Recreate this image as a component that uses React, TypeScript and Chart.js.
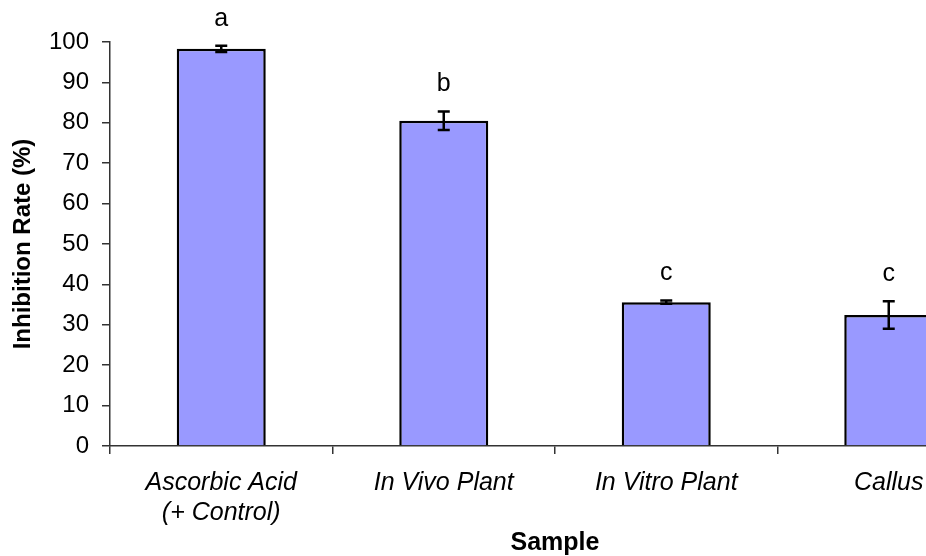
import React, { useEffect, useRef } from "react";
import { Chart, registerables } from "chart.js";

Chart.register(...registerables);

const categories: (string | string[])[] = [
  ["Ascorbic Acid", "(+ Control)"],
  "In Vivo Plant",
  "In Vitro Plant",
  "Callus",
];
const inhibition = [98.3, 80.5, 35.6, 32.4];
const errors = [0.8, 2.3, 0.4, 3.4];
const letters = ["a", "b", "c", "c"];
const yAxisTitle = "Inhibition Rate (%)";
const xAxisTitle = "Sample";

const FONT = '"Liberation Sans", Arial, sans-serif';

const errorBarPlugin = {
  id: "errorBars",
  afterDatasetsDraw(chart: any) {
    const ctx = chart.ctx;
    const meta = chart.getDatasetMeta(0);
    const y = chart.scales.y;
    meta.data.forEach((bar: any, i: number) => {
      const x = bar.x;
      const top = y.getPixelForValue(inhibition[i] + errors[i]);
      const bot = y.getPixelForValue(inhibition[i] - errors[i]);
      ctx.save();
      ctx.strokeStyle = "#000";
      ctx.lineWidth = 2.5;
      ctx.beginPath();
      ctx.moveTo(x, top);
      ctx.lineTo(x, bot);
      ctx.moveTo(x - 6, top);
      ctx.lineTo(x + 6, top);
      ctx.moveTo(x - 6, bot);
      ctx.lineTo(x + 6, bot);
      ctx.stroke();
      ctx.fillStyle = "#000";
      ctx.font = `25px ${FONT}`;
      ctx.textAlign = "center";
      ctx.textBaseline = "middle";
      ctx.fillText(letters[i], x, top - 27);
      ctx.restore();
    });
  },
};

export default function App() {
  const ref = useRef<HTMLCanvasElement>(null);
  useEffect(() => {
    if (!ref.current) return;
    const chart = new Chart(ref.current, {
      type: "bar",
      data: {
        labels: categories,
        datasets: [
          {
            data: inhibition,
            backgroundColor: "#9999FF",
            borderColor: "#000",
            borderWidth: 2.5,
            barPercentage: 0.4,
            categoryPercentage: 1,
          },
        ],
      },
      options: {
        responsive: false,
        animation: false,
        devicePixelRatio: 1,
        layout: { padding: { top: 42, right: 0, bottom: 0, left: 0 } },
        plugins: {
          legend: { display: false },
          tooltip: { enabled: false },
        },
        scales: {
          x: {
            offset: true,
            grid: {
              offset: true,
              drawOnChartArea: false,
              drawTicks: true,
              tickLength: 8,
              color: "#333",
              lineWidth: 1.5,
            },
            border: { display: true, color: "#333", width: 1.5 },
            ticks: {
              color: "#000",
              padding: 14,
              font: { family: FONT, size: 25, style: "italic", lineHeight: 1.2 },
              maxRotation: 0,
              autoSkip: false,
            },
            title: {
              display: true,
              text: xAxisTitle,
              color: "#000",
              font: { family: FONT, size: 25, weight: "bold", lineHeight: 1 },
              padding: { top: 0, bottom: 0 },
            },
            afterFit(scale: any) {
              scale.height = 110;
            },
          },
          y: {
            min: 0,
            max: 100,
            ticks: {
              stepSize: 10,
              color: "#000",
              padding: 13,
              font: { family: FONT, size: 24 },
            },
            grid: {
              drawOnChartArea: false,
              drawTicks: true,
              tickLength: 8,
              color: "#333",
              lineWidth: 1.5,
            },
            border: { display: true, color: "#333", width: 1.5 },
            title: {
              display: true,
              text: yAxisTitle,
              color: "#000",
              font: { family: FONT, size: 24, weight: "bold", lineHeight: 1.2 },
              padding: { top: 9, bottom: 0 },
            },
            afterFit(scale: any) {
              scale.width = 110;
            },
          },
        },
      },
      plugins: [errorBarPlugin],
    });
    return () => chart.destroy();
  }, []);
  return (
    <div
      style={{
        position: "fixed",
        left: 0,
        top: 0,
        width: 926,
        height: 556,
        overflow: "hidden",
        background: "#fff",
      }}
    >
      <canvas ref={ref} width={1000} height={556} style={{ display: "block" }} />
    </div>
  );
}
